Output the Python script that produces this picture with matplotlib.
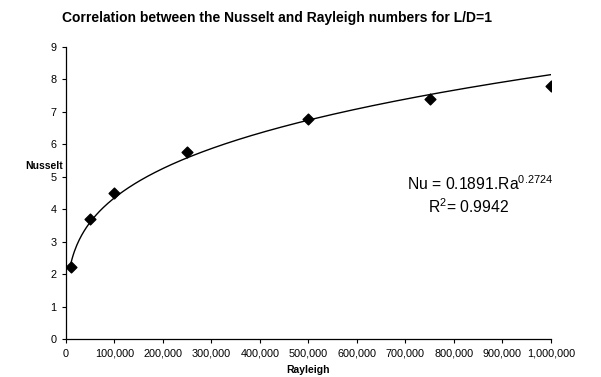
import numpy as np
import matplotlib.pyplot as plt
from matplotlib.ticker import FuncFormatter

plt.rcParams['font.family'] = ['Liberation Sans', 'DejaVu Sans']
plt.rcParams['mathtext.fontset'] = 'custom'
plt.rcParams['mathtext.rm'] = 'Liberation Sans'
plt.rcParams['mathtext.it'] = 'Liberation Sans'

# Measured points
rayleigh = [10000, 50000, 100000, 250000, 500000, 750000, 1000000]
nusselt = [2.21, 3.70, 4.50, 5.75, 6.78, 7.40, 7.80]

# Power-law trendline coefficients: Nu = a * Ra^b
a = 0.1891
b = 0.2724
r2 = 0.9942

fig = plt.figure(figsize=(6.01, 3.77), dpi=100)
ax = fig.add_axes([0.1098, 0.1008, 0.8070, 0.7745])

ra_fit = np.linspace(min(rayleigh), max(rayleigh), 400)
ax.plot(ra_fit, a * ra_fit ** b, color='black', lw=1.0, zorder=2)
ax.scatter(rayleigh, nusselt, marker='D', s=30, color='black', zorder=3)

ax.set_xlim(0, 1000000)
ax.set_ylim(0, 9)
ax.set_xticks(np.arange(0, 1000001, 100000))
ax.set_yticks(range(0, 10))
ax.xaxis.set_major_formatter(FuncFormatter(lambda v, p: f'{int(v):,}'))
ax.tick_params(direction='out', length=3, width=0.8, labelsize=7.8, pad=4)

for s in ['top', 'right']:
    ax.spines[s].set_visible(False)
for s in ['left', 'bottom']:
    ax.spines[s].set_linewidth(0.9)

fig.text(277 / 601, 1 - 18 / 377, 'Correlation between the Nusselt and Rayleigh numbers for L/D=1',
         ha='center', va='center', fontsize=10, fontweight='bold')
fig.text(44 / 601, 1 - 166 / 377, 'Nusselt', ha='center', va='center',
         fontsize=7.5, fontweight='bold')
fig.text(308 / 601, 1 - 370 / 377, 'Rayleigh', ha='center', va='center',
         fontsize=7.5, fontweight='bold')

# Trendline equation and R-squared
fig.text(407 / 601, 1 - 184 / 377, f'Nu = {a}.Ra$^{{{b}}}$', ha='left', va='center',
         fontsize=11.3)
fig.text(468 / 601, 1 - 207 / 377, f'R$^{{2}}$= {r2}', ha='center', va='center',
         fontsize=11.3)

fig.savefig('out.png', dpi=100)
